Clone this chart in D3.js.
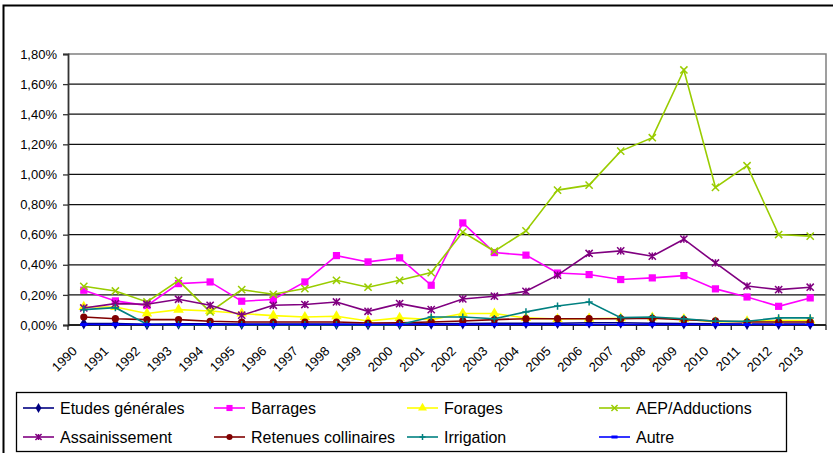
<!DOCTYPE html>
<html>
<head>
<meta charset="utf-8">
<script src="https://cdn.jsdelivr.net/npm/d3@7"></script>
<style>
  html, body { margin: 0; padding: 0; background: #fff; }
  svg { display: block; font-family: "Liberation Sans", Arial, sans-serif; }
</style>
</head>
<body>
<svg id="chart" width="833" height="453"></svg>
<script>
// Years on the category axis
const years = ["1990","1991","1992","1993","1994","1995","1996","1997","1998","1999","2000","2001",
               "2002","2003","2004","2005","2006","2007","2008","2009","2010","2011","2012","2013"];

// Share of each spending item, in percent
const etudesGenerales = [0.010,0.010,0.005,0.008,0.008,0.006,0.006,0.006,0.006,0.004,0.006,0.008,
                         0.010,0.012,0.012,0.012,0.015,0.015,0.012,0.010,0.008,0.006,0.006,0.006];
const barrages        = [0.231,0.160,0.129,0.275,0.286,0.158,0.169,0.286,0.461,0.419,0.446,0.264,
                         0.678,0.481,0.464,0.345,0.335,0.302,0.313,0.328,0.240,0.186,0.124,0.180];
const forages         = [0.120,0.120,0.076,0.102,0.093,0.076,0.062,0.053,0.058,0.027,0.047,0.036,
                         0.076,0.076,0.047,0.040,0.042,0.045,0.050,0.040,0.020,0.025,0.030,0.030];
const aep             = [0.257,0.226,0.153,0.295,0.087,0.235,0.204,0.242,0.297,0.251,0.297,0.348,
                         0.617,0.490,0.625,0.896,0.929,1.155,1.244,1.694,0.914,1.058,0.601,0.590];
const assainissement  = [0.113,0.142,0.138,0.171,0.131,0.065,0.131,0.136,0.153,0.091,0.142,0.102,
                         0.173,0.191,0.224,0.331,0.475,0.492,0.457,0.570,0.412,0.259,0.235,0.251];
const retenues        = [0.053,0.042,0.036,0.036,0.025,0.020,0.020,0.020,0.020,0.013,0.015,0.020,
                         0.027,0.036,0.042,0.042,0.042,0.042,0.045,0.036,0.027,0.020,0.020,0.020];
const irrigation      = [0.102,0.115,0.005,0.002,0.002,0.002,0.002,0.002,0.002,0.002,0.002,0.053,
                         0.053,0.042,0.087,0.126,0.153,0.049,0.053,0.042,0.025,0.025,0.047,0.047];
const autre           = [0.003,0.003,0.003,0.003,0.003,0.003,0.003,0.003,0.003,0.003,0.003,0.003,
                         0.003,0.003,0.003,0.003,0.003,0.003,0.003,0.003,0.003,0.003,0.003,0.003];

const yTicks = [0, 0.2, 0.4, 0.6, 0.8, 1.0, 1.2, 1.4, 1.6, 1.8];

const series = [
  { name: "Etudes générales",     values: etudesGenerales, color: "#000080", marker: "diamond" },
  { name: "Barrages",             values: barrages,        color: "#FF00FF", marker: "square" },
  { name: "Forages",              values: forages,         color: "#FFFF00", marker: "triangle" },
  { name: "AEP/Adductions",       values: aep,             color: "#99CC00", marker: "x" },
  { name: "Assainissement",       values: assainissement,  color: "#800080", marker: "star" },
  { name: "Retenues collinaires", values: retenues,        color: "#800000", marker: "circle" },
  { name: "Irrigation",           values: irrigation,      color: "#008080", marker: "plus" },
  { name: "Autre",                values: autre,           color: "#0000FF", marker: "dash" }
];

const svg = d3.select("#chart");

// Outer frame of the chart object
svg.append("rect")
  .attr("x", 3.5).attr("y", 5.5).attr("width", 840).attr("height", 460)
  .attr("fill", "none").attr("stroke", "#000").attr("stroke-width", 2);

const plot = { left: 68, right: 826, top: 54, bottom: 325 };

const x = d3.scaleBand().domain(years).range([plot.left, plot.right]).padding(0);
const y = d3.scaleLinear().domain([0, 1.8]).range([plot.bottom, plot.top]);
const cx = d => x(d) + x.bandwidth() / 2;

const fmt = v => d3.format(".2f")(v).replace(".", ",") + "%";

// Horizontal gridlines
svg.append("g")
  .selectAll("line")
  .data(yTicks.filter(t => t > 0 && t < 1.8))
  .join("line")
  .attr("x1", plot.left).attr("x2", plot.right)
  .attr("y1", d => y(d)).attr("y2", d => y(d))
  .attr("stroke", "#111").attr("stroke-width", 1.3);

// Plot area border (top and right)
svg.append("path")
  .attr("d", `M${plot.left},${y(1.8)}H${plot.right}V${plot.bottom}`)
  .attr("fill", "none").attr("stroke", "#808080").attr("stroke-width", 1.5);

// Y axis
const yAxis = svg.append("g")
  .attr("transform", `translate(${plot.left},0)`)
  .call(d3.axisLeft(y).tickValues(yTicks).tickFormat(fmt).tickSize(5).tickPadding(6));
yAxis.select(".domain").attr("stroke", "#333").attr("stroke-width", 1.8);
yAxis.selectAll(".tick line").attr("stroke", "#333").attr("stroke-width", 1.3);
yAxis.selectAll(".tick text").attr("font-size", 13).attr("fill", "#000")
  .attr("font-family", "Liberation Sans, Arial, sans-serif");

// X axis line and tick marks on category boundaries
const xAxis = svg.append("g");
xAxis.append("line")
  .attr("x1", plot.left).attr("x2", plot.right)
  .attr("y1", plot.bottom).attr("y2", plot.bottom)
  .attr("stroke", "#222").attr("stroke-width", 1.8);
const boundaries = years.map(d => x(d)).concat([x(years[years.length - 1]) + x.bandwidth()]);
xAxis.selectAll("line.tk")
  .data(boundaries)
  .join("line").attr("class", "tk")
  .attr("x1", d => d).attr("x2", d => d)
  .attr("y1", plot.bottom).attr("y2", plot.bottom + 5)
  .attr("stroke", "#222").attr("stroke-width", 1.3);
xAxis.selectAll("text")
  .data(years)
  .join("text")
  .attr("transform", d => `translate(${cx(d) - 6},${plot.bottom + 27}) rotate(-45)`)
  .attr("text-anchor", "end")
  .attr("font-size", 13)
  .attr("fill", "#000")
  .text(d => d);

// Marker shapes
function drawMarker(g, type, color, px, py, scale = 1) {
  const s = 3.6 * scale;
  switch (type) {
    case "diamond":
      g.append("path").attr("d", d3.symbol(d3.symbolDiamond, 40 * scale * scale)())
        .attr("transform", `translate(${px},${py})`).attr("fill", color);
      break;
    case "square":
      g.append("rect").attr("x", px - s).attr("y", py - s).attr("width", 2 * s).attr("height", 2 * s)
        .attr("fill", color);
      break;
    case "triangle":
      g.append("path").attr("d", d3.symbol(d3.symbolTriangle, 48 * scale * scale)())
        .attr("transform", `translate(${px},${py})`).attr("fill", color);
      break;
    case "circle":
      g.append("circle").attr("cx", px).attr("cy", py).attr("r", s).attr("fill", color);
      break;
    case "x":
      g.append("path").attr("d", `M${px - s},${py - s}L${px + s},${py + s}M${px - s},${py + s}L${px + s},${py - s}`)
        .attr("stroke", color).attr("stroke-width", 1.5).attr("fill", "none");
      break;
    case "star":
      g.append("path").attr("d", `M${px - s},${py - s}L${px + s},${py + s}M${px - s},${py + s}L${px + s},${py - s}M${px},${py - s}L${px},${py + s}`)
        .attr("stroke", color).attr("stroke-width", 1.5).attr("fill", "none");
      break;
    case "plus":
      g.append("path").attr("d", `M${px - s},${py}L${px + s},${py}M${px},${py - s}L${px},${py + s}`)
        .attr("stroke", color).attr("stroke-width", 1.5).attr("fill", "none");
      break;
    case "dash":
      g.append("rect").attr("x", px - s).attr("y", py - 1.5).attr("width", 2 * s).attr("height", 3)
        .attr("fill", color);
      break;
  }
}

// Series lines and markers
const line = d3.line().x((d, i) => cx(years[i])).y(d => y(d));
series.forEach(s => {
  const g = svg.append("g");
  g.append("path").attr("d", line(s.values))
    .attr("fill", "none").attr("stroke", s.color).attr("stroke-width", 1.6);
  s.values.forEach((v, i) => drawMarker(g, s.marker, s.color, cx(years[i]), y(v)));
});

// Legend
const legend = svg.append("g");
legend.append("rect")
  .attr("x", 16.5).attr("y", 392.5).attr("width", 770).attr("height", 59)
  .attr("fill", "#fff").attr("stroke", "#000").attr("stroke-width", 1.3);
const colX = [23, 214, 407, 599];
const rowY = [408, 437];
series.forEach((s, i) => {
  const lx = colX[i % 4], ly = rowY[Math.floor(i / 4)];
  const g = legend.append("g");
  g.append("line").attr("x1", lx).attr("x2", lx + 31).attr("y1", ly).attr("y2", ly)
    .attr("stroke", s.color).attr("stroke-width", 1.6);
  drawMarker(g, s.marker, s.color, lx + 15.5, ly, 0.85);
  g.append("text").attr("x", lx + 37).attr("y", ly).attr("dy", "0.36em")
    .attr("font-size", 16).attr("fill", "#000").text(s.name);
});
</script>
</body>
</html>
